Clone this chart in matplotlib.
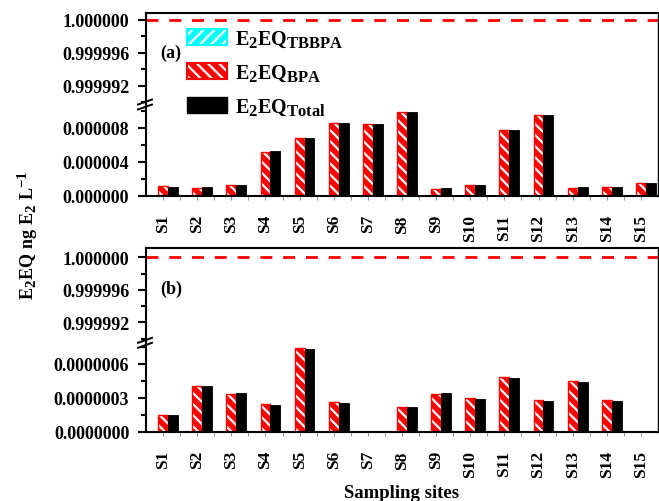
import numpy as np
import matplotlib.pyplot as plt
import matplotlib._mathtext as mathtext_impl
from matplotlib.patches import Patch
from matplotlib.lines import Line2D
from matplotlib.ticker import FixedLocator, FormatStrFormatter

plt.rcParams['font.family'] = 'Liberation Serif'
plt.rcParams['font.weight'] = 'bold'
plt.rcParams['mathtext.fontset'] = 'custom'
plt.rcParams['mathtext.rm'] = 'Liberation Serif:bold'
plt.rcParams['mathtext.it'] = 'Liberation Serif:bold'
plt.rcParams['mathtext.bf'] = 'Liberation Serif:bold'
plt.rcParams['hatch.color'] = 'white'
plt.rcParams['hatch.linewidth'] = 1.6
# bigger sub/superscripts, like the original figure
mathtext_impl.SHRINK_FACTOR = 0.82

sites = ['S1', 'S2', 'S3', 'S4', 'S5', 'S6', 'S7', 'S8', 'S9', 'S10',
         'S11', 'S12', 'S13', 'S14', 'S15']

# panel (a)
tbbpa_a = [2e-8, 2e-8, 2e-8, 2e-8, 2e-8, 2e-8, 2e-8, 2e-8, 2e-8, 2e-8,
           2e-8, 2e-8, 2e-8, 2e-8, 2e-8]
bpa_a = [1.15e-6, 0.98e-6, 1.29e-6, 5.18e-6, 6.82e-6, 8.60e-6, 8.43e-6, 9.84e-6,
         0.86e-6, 1.29e-6, 7.76e-6, 9.53e-6, 0.98e-6, 1.02e-6, 1.57e-6]
total_a = [1.05e-6, 1.02e-6, 1.30e-6, 5.26e-6, 6.82e-6, 8.60e-6, 8.43e-6, 9.84e-6,
           0.94e-6, 1.29e-6, 7.76e-6, 9.53e-6, 1.06e-6, 1.02e-6, 1.57e-6]

# panel (b)
tbbpa_b = [3e-9, 3e-9, 3e-9, 3e-9, 3e-9, 3e-9, 0, 3e-9, 3e-9, 3e-9,
           3e-9, 3e-9, 3e-9, 3e-9, 0]
bpa_b = [0.150e-6, 0.406e-6, 0.335e-6, 0.244e-6, 0.741e-6, 0.265e-6, 0, 0.223e-6,
         0.335e-6, 0.300e-6, 0.483e-6, 0.280e-6, 0.447e-6, 0.280e-6, 0]
total_b = [0.150e-6, 0.403e-6, 0.347e-6, 0.238e-6, 0.735e-6, 0.259e-6, 0, 0.221e-6,
           0.344e-6, 0.291e-6, 0.477e-6, 0.276e-6, 0.441e-6, 0.276e-6, 0]

W, H = 659, 502
L = 146 / W
AW = (658 - 146) / W
bw = 0.29


def fy(px):
    return 1 - px / H


def hatched(ax, x, v, color, hatch):
    ax.bar(x, v, bw, color=color, hatch=hatch, linewidth=0)
    ax.bar(x, v, bw, fill=False, edgecolor=color, linewidth=1)


def panel(fig, top, brk, bot, up_lim, low_lim, low_major, low_minor, low_fmt,
          tb, bpa, tot, tag, tag_y):
    ax_up = fig.add_axes([L, fy(brk), AW, (brk - top) / H])
    ax_lo = fig.add_axes([L, fy(bot), AW, (bot - brk) / H], sharex=ax_up)
    x = np.arange(1, len(sites) + 1)

    hatched(ax_lo, x - bw, tb, 'cyan', '///')
    hatched(ax_lo, x, bpa, 'red', '\\\\\\')
    ax_lo.bar(x + bw, tot, bw, color='black', edgecolor='black', linewidth=0.6)

    ax_up.axhline(1.0, color='red', lw=2, dashes=(4.3, 3.9))

    ax_up.set_xlim(0.5, 15.5)
    ax_up.set_ylim(*up_lim)
    ax_lo.set_ylim(*low_lim)

    ax_up.yaxis.set_major_locator(FixedLocator([0.999992, 0.999996, 1.0]))
    ax_up.yaxis.set_minor_locator(FixedLocator([0.99999, 0.999994, 0.999998]))
    ax_up.yaxis.set_major_formatter(FormatStrFormatter('%.6f'))
    ax_lo.yaxis.set_major_locator(FixedLocator(low_major))
    ax_lo.yaxis.set_minor_locator(FixedLocator(low_minor))
    ax_lo.yaxis.set_major_formatter(FormatStrFormatter(low_fmt))

    for ax in (ax_up, ax_lo):
        ax.tick_params(axis='y', which='major', direction='out', length=6,
                       width=1.5, labelsize=13, pad=6)
        ax.tick_params(axis='y', which='minor', direction='out', length=3.5,
                       width=1.5)
        ax.spines['left'].set_linewidth(1.5)
        ax.spines['right'].set_linewidth(1.0)
    ax_up.spines['bottom'].set_visible(False)
    ax_lo.spines['top'].set_visible(False)
    ax_up.spines['top'].set_linewidth(1.5)
    ax_lo.spines['bottom'].set_linewidth(1.5)
    ax_up.tick_params(axis='x', which='both', bottom=False, labelbottom=False)

    ax_lo.set_xticks(x)
    ax_lo.set_xticks(x[:-1] + 0.5, minor=True)
    ax_lo.set_xticklabels(sites, rotation=90)
    ax_lo.tick_params(axis='x', which='both', direction='out', length=3,
                      width=0.6, color='gray', labelsize=12.5, pad=10)

    # break marks on the left spine
    for d in (-2.5, 2.5):
        fig.add_artist(Line2D([L - 8 / W, L + 6 / W],
                              [fy(brk + 3 + d), fy(brk - 2 + d)],
                              color='black', lw=1.4))

    fig.text(160 / W, fy(tag_y), tag, ha='left', va='center', fontsize=13)
    return ax_up, ax_lo


fig = plt.figure(figsize=(W / 100, H / 100), dpi=100)

panel(fig, 14, 105, 197, (1 - 10.2e-6, 1 + 0.85e-6), (0, 10.8e-6),
      [0, 4e-6, 8e-6], [2e-6, 6e-6, 10e-6], '%.6f',
      tbbpa_a, bpa_a, total_a, '(a)', 53)
panel(fig, 249.3, 343.3, 433, (1 - 10.46e-6, 1 + 1.1e-6), (0, 0.79e-6),
      [0, 3e-7, 6e-7], [1.5e-7, 4.5e-7, 7.5e-7], '%.7f',
      tbbpa_b, bpa_b, total_b, '(b)', 289)

handles = [
    (Patch(facecolor='cyan', hatch='///', linewidth=0),
     Patch(fill=False, edgecolor='cyan', linewidth=1.5)),
    (Patch(facecolor='red', hatch='\\\\\\', linewidth=0),
     Patch(fill=False, edgecolor='red', linewidth=1.5)),
    Patch(facecolor='black', edgecolor='black'),
]
labels = [r'$\mathrm{E_2EQ_{TBBPA}}$', r'$\mathrm{E_2EQ_{BPA}}$',
          r'$\mathrm{E_2EQ_{Total}}$']
fig.legend(handles, labels, loc='upper left', bbox_to_anchor=(187 / W, fy(30)),
           frameon=False, fontsize=14.5, handlelength=2.0, handleheight=0.85,
           handletextpad=0.4, labelspacing=0.68, borderpad=0, borderaxespad=0)

fig.text(28 / W, fy(235), r'$\mathrm{E_2EQ\ ng\ E_2\ L^{-1}}$', rotation=90,
         ha='center', va='center', fontsize=13)
fig.text(402 / W, fy(485), 'Sampling sites', ha='center', va='top',
         fontsize=13.5)

plt.savefig('out.png', dpi=100)
